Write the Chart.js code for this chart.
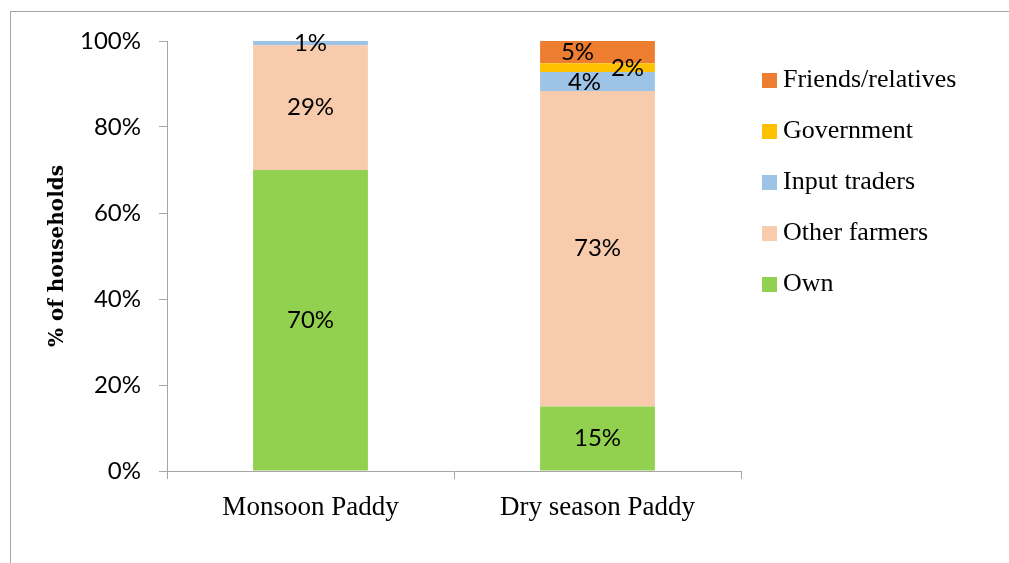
<!DOCTYPE html>
<html>
<head>
<meta charset="utf-8">
<script src="https://cdn.jsdelivr.net/npm/chart.js@4.4.1/dist/chart.umd.min.js"></script>
<style>
  html, body { margin: 0; padding: 0; background: #fff; overflow: hidden; }
  #wrap { position: relative; width: 1009px; height: 563px; }
  #frame { position: absolute; left: 10px; top: 11px; width: 1100px; height: 600px;
           border-top: 1px solid #a6a6a6; border-left: 1px solid #a6a6a6; }
  canvas { position: absolute; left: 0; top: 0; }
</style>
</head>
<body>
<div id="wrap">
  <div id="frame"></div>
  <canvas id="seedChart" width="1009" height="563"></canvas>
</div>
<script>
// Seed sources by season (% of households)
var categories = ['Monsoon Paddy', 'Dry season Paddy'];
var own = [70, 15];
var otherFarmers = [29, 73.4];
var inputTraders = [1, 4.4];
var government = [0, 2.0];
var friends = [0, 5.2];
var yTicks = [0, 20, 40, 60, 80, 100];

// small label nudges, like the hand placed labels in the original
var labelShift = { '3-1': [30, 1], '2-1': [-13, 1], '4-1': [-20, 0] };

var serif = '"Liberation Serif", "DejaVu Serif", serif';
var sans = 'Lato, "Open Sans", sans-serif';

var valueLabels = {
  id: 'valueLabels',
  afterDatasetsDraw: function (chart) {
    var c = chart.ctx;
    c.save();
    c.font = '24px ' + sans;
    c.fillStyle = '#000';
    c.textAlign = 'center';
    c.textBaseline = 'middle';
    chart.data.datasets.forEach(function (ds, di) {
      var meta = chart.getDatasetMeta(di);
      meta.data.forEach(function (bar, i) {
        var v = ds.data[i];
        if (!v) return;
        var s = labelShift[di + '-' + i] || [0, 0];
        c.fillText(Math.round(v) + '%', bar.x + s[0], (bar.y + bar.base) / 2 + s[1]);
      });
    });
    c.restore();
  }
};

var sideLegend = {
  id: 'sideLegend',
  afterDraw: function (chart) {
    var c = chart.ctx;
    var ds = chart.data.datasets.slice().reverse();
    c.save();
    c.font = '26px ' + serif;
    c.textBaseline = 'middle';
    c.textAlign = 'left';
    ds.forEach(function (d, i) {
      var y = 80 + i * 51;
      c.fillStyle = d.backgroundColor;
      c.fillRect(762, y - 7, 15, 15);
      c.fillStyle = '#000';
      c.fillText(d.label, 783, y);
    });
    c.restore();
  }
};

new Chart(document.getElementById('seedChart'), {
  type: 'bar',
  data: {
    labels: categories,
    datasets: [
      { label: 'Own', data: own, backgroundColor: '#92d050' },
      { label: 'Other farmers', data: otherFarmers, backgroundColor: '#f8cbad' },
      { label: 'Input traders', data: inputTraders, backgroundColor: '#9dc3e6' },
      { label: 'Government', data: government, backgroundColor: '#ffc000' },
      { label: 'Friends/relatives', data: friends, backgroundColor: '#ed7d31' }
    ]
  },
  options: {
    responsive: false,
    animation: false,
    layout: { padding: { left: 0, right: 268, top: 41, bottom: 0 } },
    datasets: { bar: { barPercentage: 0.4, categoryPercentage: 1.0 } },
    plugins: {
      legend: { display: false },
      tooltip: { enabled: false }
    },
    scales: {
      x: {
        stacked: true,
        afterFit: function (s) { s.height = 92; },
        grid: { offset: true, drawOnChartArea: false, drawTicks: true, tickLength: 8, color: '#a6a6a6' },
        border: { color: '#a6a6a6' },
        ticks: { color: '#000', font: { family: serif, size: 27 }, padding: 13 }
      },
      y: {
        stacked: true,
        min: 0,
        max: 100,
        afterFit: function (s) { s.width = 167; },
        afterBuildTicks: function (s) { s.ticks = yTicks.map(function (v) { return { value: v }; }); },
        grid: { drawOnChartArea: false, drawTicks: true, tickLength: 8, color: '#a6a6a6' },
        border: { color: '#a6a6a6' },
        ticks: { color: '#000', padding: 18, font: { family: sans, size: 24 },
                 callback: function (v) { return v + '%'; } },
        title: { display: true, text: '% of households', color: '#000',
                 font: { family: '"DejaVu Serif", serif', size: 20, weight: 'bold' }, padding: { top: 46, bottom: 0 } }
      }
    }
  },
  plugins: [valueLabels, sideLegend]
});
</script>
</body>
</html>
